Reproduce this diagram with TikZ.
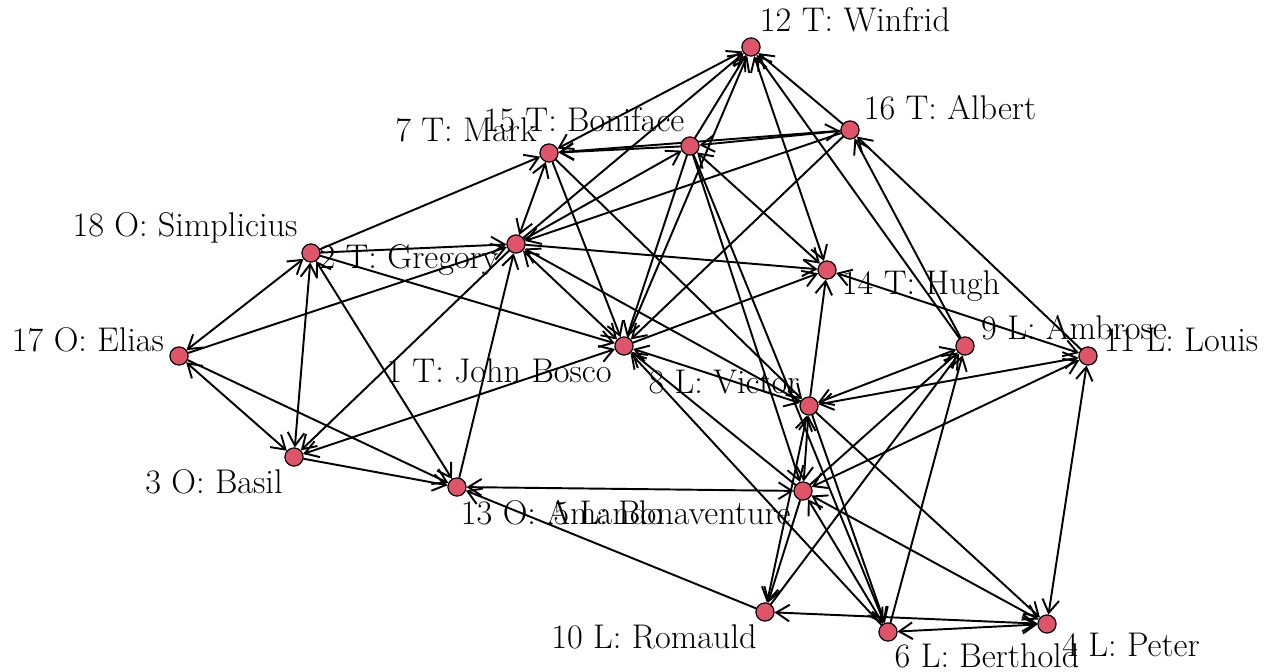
\documentclass[tikz,border=0pt]{standalone}
\usetikzlibrary{arrows.meta}
\definecolor{nodefill}{RGB}{224,84,106}
\begin{document}
\begin{tikzpicture}[x=0.02cm,y=-0.02cm,
  vtx/.style={circle,draw=black,line width=0.6pt,fill=nodefill,minimum size=0.36cm,inner sep=0pt},
  lbl/.style={font=\fontsize{19.5}{22}\selectfont,inner sep=0pt},
  e/.style={line width=1.1pt,-{Straight Barb[length=7.5pt,width=9.5pt,line width=1.1pt]}},
  ee/.style={line width=1.1pt,{Straight Barb[length=7.5pt,width=9.5pt,line width=1.1pt]}-{Straight Barb[length=7.5pt,width=9.5pt,line width=1.1pt]}}]
\useasboundingbox (0,0) rectangle (1271,672);
% nodes
\node[vtx] (W)  at (751,47) {};
\node[vtx] (A)  at (850,130) {};
\node[vtx] (B)  at (690,146) {};
\node[vtx] (M)  at (549,153) {};
\node[vtx] (G)  at (516,244) {};
\node[vtx] (S)  at (311,253) {};
\node[vtx] (H)  at (827,270) {};
\node[vtx] (E)  at (179,356) {};
\node[vtx] (J)  at (624,346) {};
\node[vtx] (Am) at (965,346) {};
\node[vtx] (Lo) at (1088,356) {};
\node[vtx] (V)  at (809,406) {};
\node[vtx] (Ba) at (294,457) {};
\node[vtx] (Ama) at (457,487) {};
\node[vtx] (Bo) at (803,491) {};
\node[vtx] (R)  at (765,612) {};
\node[vtx] (Be) at (888,632) {};
\node[vtx] (P)  at (1047,624) {};
% edges
\draw[e] (S) -- (M);
\draw[e] (S) -- (G);
\draw[e] (S) -- (J);
\draw[ee] (S) -- (E);
\draw[ee] (S) -- (Ba);
\draw[ee] (S) -- (Ama);
\draw[e] (E) -- (G);
\draw[ee] (E) -- (Ba);
\draw[e] (E) -- (Ama);
\draw[e] (Ba) -- (Ama);
\draw[ee] (Ba) -- (J);
\draw[e] (G) -- (Ba);
\draw[e] (Ama) -- (G);
\draw[ee] (Ama) -- (Bo);
\draw[e] (R) -- (Ama);
\draw[ee] (M) -- (G);
\draw[ee] (G) -- (J);
\draw[e] (G) -- (H);
\draw[e] (G) -- (B);
\draw[e] (A) -- (G);
\draw[e] (G) -- (W);
\draw[e] (V) -- (G);
\draw[ee] (M) -- (W);
\draw[e] (B) -- (M);
\draw[e] (A) -- (M);
\draw[e] (M) -- (J);
\draw[e] (M) -- (V);
\draw[e] (B) -- (W);
\draw[e] (J) -- (W);
\draw[ee] (W) -- (H);
\draw[e] (A) -- (W);
\draw[e] (Am) -- (W);
\draw[ee] (B) -- (A);
\draw[ee] (B) -- (H);
\draw[e] (B) -- (J);
\draw[e] (B) -- (Bo);
\draw[e] (B) -- (Be);
\draw[e] (A) -- (J);
\draw[e] (Am) -- (A);
\draw[e] (Lo) -- (A);
\draw[e] (J) -- (H);
\draw[e] (V) -- (H);
\draw[ee] (H) -- (Lo);
\draw[ee] (J) -- (V);
\draw[ee] (V) -- (Am);
\draw[ee] (V) -- (Lo);
\draw[ee] (Bo) -- (Lo);
\draw[ee] (Lo) -- (P);
\draw[e] (Bo) -- (Am);
\draw[e] (R) -- (Am);
\draw[e] (Be) -- (Am);
\draw[e] (Bo) -- (J);
\draw[e] (Be) -- (J);
\draw[ee] (V) -- (R);
\draw[e] (V) -- (Be);
\draw[e] (V) -- (P);
\draw[ee] (V) -- (Bo);
\draw[e] (Bo) -- (R);
\draw[ee] (Bo) -- (Be);
\draw[ee] (Bo) -- (P);
\draw[ee] (R) -- (P);
\draw[ee] (Be) -- (P);
% redraw nodes on top
\foreach \n in {W,A,B,M,G,S,H,E,J,Am,Lo,V,Ba,Ama,Bo,R,Be,P}{\fill[nodefill,draw=black,line width=0.6pt] (\n) circle (0.18cm);}
% labels
\node[lbl] (lW)  at (855,20)  {12 T: Winfrid};
\node[lbl] (lA)  at (950,108) {16 T: Albert};
\node[lbl] (lB)  at (584,120) {15 T: Boniface};
\node[lbl] (lM)  at (466,130) {7 T: Mark};
\node[lbl] (lS)  at (185,228) {18 O: Simplicius};
\node[lbl] (lG)  at (409,260) {2 T: Gregory};
\node[lbl] (lH)  at (921,286) {14 T: Hugh};
\node[lbl] (lE)  at (88,340)  {17 O: Elias};
\node[lbl] (lJ)  at (499,371) {1 T: John Bosco};
\node[lbl] (lAm) at (1074,328) {9 L: Ambrose};
\node[lbl] (lLo) at (1181,340) {11 L: Louis};
\node[lbl] (lV)  at (724,382) {8 L: Victor};
\node[lbl] (lBa) at (214,482) {3 O: Basil};
\node[lbl] (lAma) at (562,513) {13 O: Amando};
\node[lbl] (lBo) at (672,513) {5 L: Bonaventure};
\node[lbl] (lR)  at (654,637) {10 L: Romauld};
\node[lbl] (lBe) at (987,656) {6 L: Berthold};
\node[lbl] (lP)  at (1131,645) {4 L: Peter};
\end{tikzpicture}
\end{document}
